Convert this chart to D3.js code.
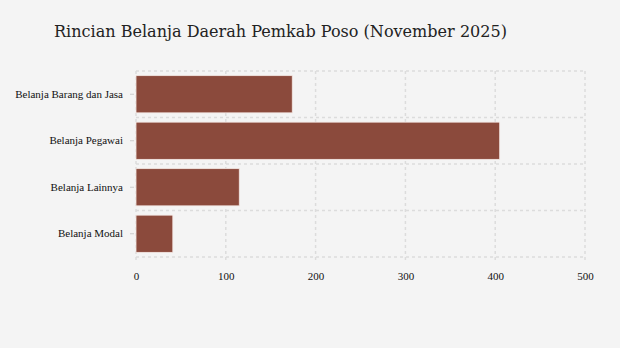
<!DOCTYPE html>
<html>
<head>
<meta charset="utf-8">
<script src="https://cdn.jsdelivr.net/npm/d3@7"></script>
<style>
  body { margin: 0; background: #f4f4f4; }
  svg { display: block; }
</style>
</head>
<body>
<div id="chart"></div>
<script>
// Data
const categories = ["Belanja Barang dan Jasa", "Belanja Pegawai", "Belanja Lainnya", "Belanja Modal"];
const values = [174, 405, 115, 41];
const xTicks = [0, 100, 200, 300, 400, 500];

const width = 620;
const height = 348;
const margin = {left: 136, right: 35, top: 71, bottom: 91};

const data = categories.map((c, i) => ({name: c, value: values[i]}));

let svg = d3.select("#chart")
  .append("svg")
  .attr("width", width)
  .attr("height", height);

svg.append("rect")
  .attr("width", width).attr("height", height)
  .attr("fill", "#f4f4f4");

// Title
svg.append("text")
  .attr("x", 54)
  .attr("y", 37)
  .attr("font-family", "DejaVu Serif")
  .attr("font-size", "16px")
  .attr("fill", "#222")
  .attr("textLength", 453)
  .attr("lengthAdjust", "spacingAndGlyphs")
  .text("Rincian Belanja Daerah Pemkab Poso (November 2025)");

// Scales
let xScale = d3.scaleLinear()
  .domain([0, 500])
  .range([margin.left, width - margin.right]);

let yScale = d3.scaleBand()
  .domain(categories)
  .range([margin.top, height - margin.bottom])
  .paddingInner(0.2)
  .paddingOuter(0.1);

// Grid
const grid = svg.append("g")
  .attr("stroke", "#dcdcdc")
  .attr("stroke-width", 1.5)
  .attr("stroke-dasharray", "3,3")
  .attr("fill", "none");

grid.selectAll(".vline")
  .data(xTicks)
  .enter()
  .append("line")
    .attr("x1", d => xScale(d))
    .attr("x2", d => xScale(d))
    .attr("y1", margin.top)
    .attr("y2", height - margin.bottom + 4);

// band boundaries
const bounds = categories.map(c => yScale(c) - yScale.step() * yScale.paddingInner() / 2);
bounds.push(height - margin.bottom);
bounds[0] = margin.top;

grid.selectAll(".hline")
  .data(bounds)
  .enter()
  .append("line")
    .attr("x1", margin.left)
    .attr("x2", width - margin.right)
    .attr("y1", d => d)
    .attr("y2", d => d);

// Bars
svg.selectAll(".bar")
  .data(data)
  .enter()
  .append("rect")
    .attr("class", "bar")
    .attr("x", xScale(0))
    .attr("y", d => yScale(d.name))
    .attr("width", d => xScale(d.value) - xScale(0))
    .attr("height", yScale.bandwidth())
    .attr("fill", "#8b4a3c")
    .attr("stroke", "#f4e8e4")
    .attr("stroke-width", 0.8);

// Y axis
let yAxis = svg.append("g")
  .attr("transform", `translate(${margin.left - 2}, 0)`)
  .attr("font-family", "'Liberation Serif', serif")
  .call(d3.axisLeft(yScale).tickSize(4).tickPadding(7));
yAxis.attr("font-family", "'Liberation Serif', serif");
yAxis.select(".domain").remove();
yAxis.selectAll(".tick line").attr("stroke", "#ccc");
yAxis.selectAll("text")
  .style("font-family", "'Liberation Serif', serif")
  .attr("font-size", "11px")
  .attr("fill", "#111");

// X axis
let xAxis = svg.append("g")
  .attr("transform", `translate(0, ${height - margin.bottom})`)
  .call(d3.axisBottom(xScale).tickValues(xTicks).tickSize(0).tickPadding(15));
xAxis.select(".domain").remove();
xAxis.selectAll("text")
  .style("font-family", "'Liberation Serif', serif")
  .attr("font-size", "11px")
  .attr("fill", "#111");
</script>
</body>
</html>
